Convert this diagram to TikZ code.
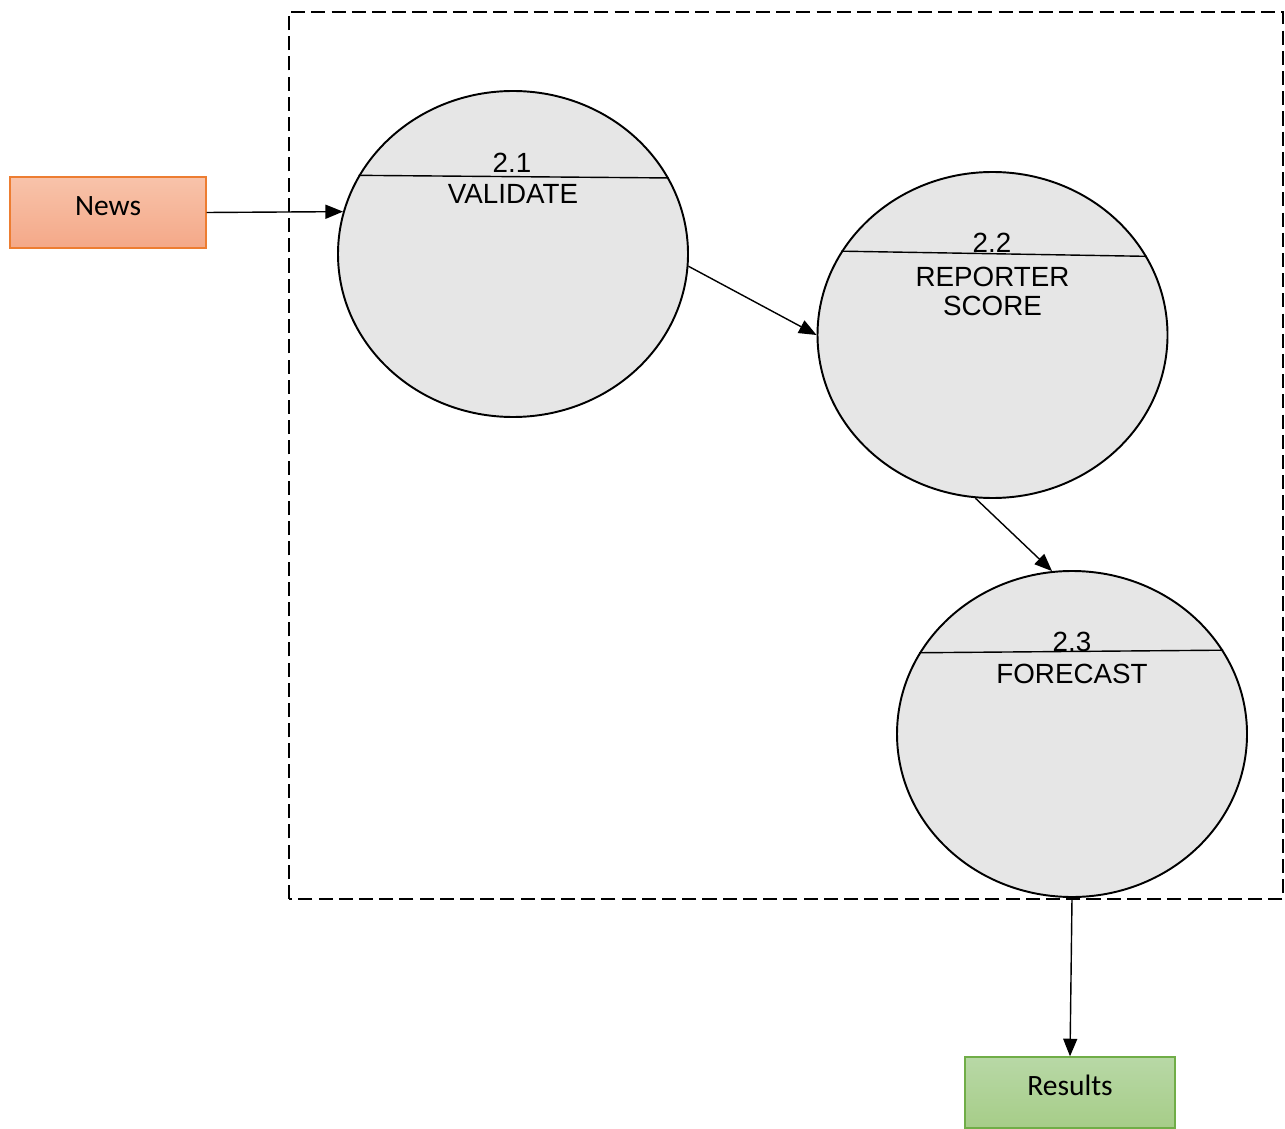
\documentclass[tikz,border=0pt]{standalone}
\usepackage{fontspec}
\setmainfont{Liberation Sans}
\newfontfamily\calibrifont{Carlito}
\usetikzlibrary{shapes.geometric,arrows.meta}
\definecolor{procgray}{RGB}{230,230,230}
\definecolor{newsedge}{RGB}{237,125,49}
\definecolor{newstop}{RGB}{248,195,170}
\definecolor{newsbottom}{RGB}{244,168,136}
\definecolor{resedge}{RGB}{112,173,71}
\definecolor{restop}{RGB}{184,216,166}
\definecolor{resbottom}{RGB}{166,205,136}
\begin{document}
\begin{tikzpicture}[
        process/.style={ellipse,draw,line width=1.1pt,fill=procgray,minimum width=7.0cm,minimum height=6.52cm,inner sep=0pt},
        entity/.style={rectangle,draw,line width=0.8pt,minimum height=1.42cm,font=\calibrifont\fontsize{16.8}{19}\selectfont,text height=11pt,text depth=8pt},
        flow/.style={line width=0.8pt,-{Triangle[length=10pt,width=8pt]}},
        divider/.style={line width=0.8pt},
        ptext/.style={font=\fontsize{15.8}{16.8}\selectfont,inner sep=0pt,align=center},
        boundary/.style={line width=1.1pt,dash pattern=on 8pt off 3.5pt}
    ]
        \useasboundingbox (0,0) rectangle (25.7,22.56);
        \draw[boundary] (5.78,4.58) rectangle (25.66,22.32);
        \node[entity,draw=newsedge,top color=newstop,bottom color=newsbottom,minimum width=3.92cm] (news) at (2.16,18.31) {News};
        \node[entity,draw=resedge,top color=restop,bottom color=resbottom,minimum width=4.2cm] (results) at (21.4,0.71) {Results};
        \node[process] (validate) at (10.26,17.48) {};
        \node[process] (score) at (19.85,15.86) {};
        \node[process] (forecast) at (21.44,7.88) {};
        \draw[divider] (validate.153.3) -- (validate.26.7);
        \draw[divider] (score.151.7) -- (score.27.1);
        \draw[divider] (forecast.152.3) -- (forecast.29.3);
        \node[ptext,anchor=base] (num21) at (10.24,19.10) {2.1};
        \node[ptext,anchor=base] (txt21) at (10.26,18.48) {VALIDATE};
        \node[ptext,anchor=base] (num22) at (19.84,17.50) {2.2};
        \node[ptext,anchor=north] (txt22) at (19.85,17.23) {REPORTER\\SCORE};
        \node[ptext,anchor=base] (num23) at (21.44,9.54) {2.3};
        \node[ptext,anchor=base] (txt23) at (21.44,8.90) {FORECAST};
        \draw[flow] (news.east) -- (validate.166.2);
        \draw[flow] (validate.-4) -- (score.west);
        \draw[flow] (score.264) -- (forecast.97.6);
        \draw[flow] (forecast.south) -- (results.north);
    \end{tikzpicture}
\end{document}
